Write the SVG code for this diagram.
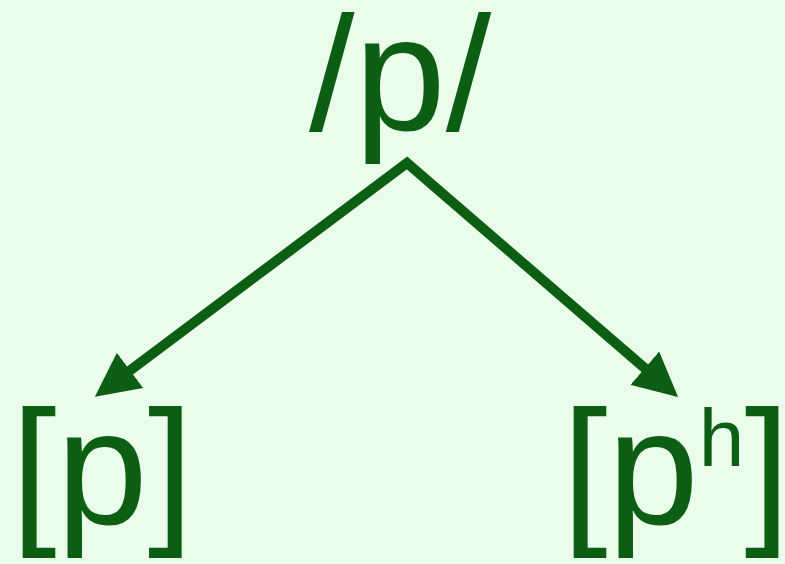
<svg xmlns="http://www.w3.org/2000/svg" width="785" height="564" viewBox="0 0 785 564">
<style>
.t{font-family:"Liberation Sans",Arial,sans-serif;font-size:164px;fill:#0b5e12}
.c{fill:none;stroke:#0b5e12;stroke-width:10;stroke-linejoin:miter}
</style>
<defs>
<marker id="ah" markerUnits="userSpaceOnUse" markerWidth="44" markerHeight="44" refX="12" refY="21" orient="auto-start-reverse" viewBox="0 0 42 42">
<path d="M0,0 L42,21 L0,42 Z" fill="#0b5e12"/>
</marker>
</defs>
<rect width="785" height="564" fill="#eafcea"/>
<g id="connectors">
<path class="c" d="M120,378 L407,163 L654.3,376.4" marker-start="url(#ah)" marker-end="url(#ah)"/>
</g>
<g id="phoneme"><text class="t" x="309" y="130">/p/</text></g>
<g id="allophone-p"><text class="t" x="11" y="524">[p]</text></g>
<g id="allophone-ph"><text class="t" x="562" y="524">[p<tspan font-size="82" dy="-58">h</tspan><tspan dy="58">]</tspan></text></g>
</svg>
